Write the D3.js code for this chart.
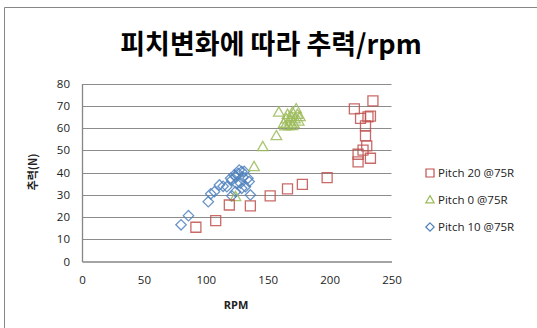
<!DOCTYPE html>
<html>
<head>
<meta charset="utf-8">
<script src="https://cdn.jsdelivr.net/npm/d3@7"></script>
<style>
  html, body { margin: 0; padding: 0; background: #fff; }
  svg { display: block; }
</style>
</head>
<body>
<svg id="chart" width="537" height="328"></svg>
<script>
// Thrust (N) against RPM for three pitch settings, measured at 75% radius
const pitch20 = [
  [92, 15.4], [108, 18.4], [119, 25.4], [136, 25], [152, 29.5], [166, 32.6],
  [178, 34.7], [198, 37.7], [220, 68.6], [235, 72.2], [225, 64.3], [231, 65],
  [233, 65.3], [229, 61], [229, 56.5], [230, 52], [227, 50.1], [223, 48.2],
  [223, 44.8], [233, 46.4]
];
const pitch0 = [
  [124, 29], [139, 42.5], [146, 51.5], [157, 56.4], [159, 67], [163, 62],
  [165, 64], [166, 66], [167, 61], [168, 63], [169, 65], [170, 67],
  [171, 62], [172, 64], [173, 68.5], [174, 66], [175, 63], [176, 65],
  [164, 60.8], [170, 61]
];
const pitch10 = [
  [80, 16.5], [86, 20.6], [102, 26.9], [104, 30.4], [107, 31.4], [111, 34.4],
  [114, 33.8], [117, 33.6], [120, 37.4], [121, 36.6], [121, 29.5], [123, 38.9],
  [124, 31.4], [124, 38.1], [126, 39.6], [127, 41.1], [128, 35.2], [129, 40.4],
  [129, 32.9], [130, 38], [132, 33.6], [134, 37.4], [135, 35.9], [136, 29.9],
  [131, 40.5], [125, 35]
];
const xTicks = [0, 50, 100, 150, 200, 250];
const yTicks = [0, 10, 20, 30, 40, 50, 60, 70, 80];
const seriesNames = ["Pitch 20 @75R", "Pitch 0 @75R", "Pitch 10 @75R"];
const titleText = "피치변화에 따라 추력/rpm";
const xTitle = "RPM";
const yTitle = "추력(N)";

const svg = d3.select("#chart");
const frameColor = "#868686";
const gridColor = "#8c8c8c";
const textFont = "'Open Sans', 'Noto Sans', sans-serif";

// outer chart frame (left and top edges are visible)
svg.append("path")
  .attr("d", "M4.5,328 V7.5 H540")
  .attr("fill", "none")
  .attr("stroke", frameColor)
  .attr("stroke-width", 1);

const plot = { left: 82, right: 391.5, top: 83.5, bottom: 261.5 };
const x = d3.scaleLinear().domain([0, 250]).range([plot.left, plot.right]);
const y = d3.scaleLinear().domain([0, 80]).range([plot.bottom, plot.top]);

// horizontal gridlines
svg.append("g")
  .selectAll("line")
  .data(yTicks.filter(v => v > 0))
  .join("line")
  .attr("x1", plot.left).attr("x2", plot.right)
  .attr("y1", d => Math.round(y(d)) + 0.5).attr("y2", d => Math.round(y(d)) + 0.5)
  .attr("stroke", gridColor).attr("stroke-width", 1.2);

// axes
const yAxis = svg.append("g")
  .attr("transform", `translate(${plot.left},0)`)
  .call(d3.axisLeft(y).tickValues(yTicks).tickSize(0).tickPadding(12).tickFormat(d3.format("d")));
const xAxis = svg.append("g")
  .attr("transform", `translate(0,${plot.bottom})`)
  .call(d3.axisBottom(x).tickValues(xTicks).tickSize(0).tickPadding(14).tickFormat(d3.format("d")));
[xAxis, yAxis].forEach(g => {
  g.select(".domain").attr("stroke", frameColor).attr("stroke-width", 1.3);
  g.selectAll("text")
    .attr("font-family", textFont)
    .attr("font-size", 11.5)
    .attr("fill", "#222");
});

// marker shapes: square, triangle, and a square turned 45° (diamond)
const squarePath = s => `M${-s},${-s}H${s}V${s}H${-s}Z`;
const trianglePath = s => `M0,${-s * 1.05}L${s},${s * 0.7}H${-s}Z`;
const diamondPath = s => `M0,${-s}L${s},0L0,${s}L${-s},0Z`;

const series = [
  { name: seriesNames[0], data: pitch20, color: "#c0504d", shape: squarePath, size: 5, legendSize: 4 },
  { name: seriesNames[1], data: pitch0, color: "#9bbb59", shape: trianglePath, size: 5.3, legendSize: 4.2 },
  { name: seriesNames[2], data: pitch10, color: "#4f81bd", shape: diamondPath, size: 5.2, legendSize: 4.2 }
];

// draw in reverse so the first series sits on top
series.slice().reverse().forEach(s => {
  svg.append("g")
    .selectAll("path")
    .data(s.data)
    .join("path")
    .attr("d", s.shape(s.size))
    .attr("transform", d => `translate(${x(d[0])},${y(d[1])})`)
    .attr("fill", "none")
    .attr("stroke", s.color)
    .attr("stroke-opacity", 0.85)
    .attr("stroke-width", 1.3);
});

// title
svg.append("text")
  .attr("x", 271).attr("y", 54)
  .attr("text-anchor", "middle")
  .attr("font-family", "'Noto Sans CJK KR', sans-serif")
  .attr("font-weight", "bold")
  .attr("font-size", 27)
  .attr("fill", "#000")
  .text(titleText);

// axis titles
svg.append("text")
  .attr("x", 236).attr("y", 309)
  .attr("text-anchor", "middle")
  .attr("font-family", textFont)
  .attr("font-weight", "bold")
  .attr("font-size", 11)
  .attr("fill", "#222")
  .text(xTitle);
svg.append("text")
  .attr("transform", "translate(37,172) rotate(-90)")
  .attr("text-anchor", "middle")
  .attr("font-family", "'Noto Sans CJK KR', sans-serif")
  .attr("font-weight", "bold")
  .attr("font-size", 11)
  .attr("fill", "#222")
  .text(yTitle);

// legend
const legend = svg.append("g").attr("transform", "translate(430,173)");
const rowGap = 27;
series.forEach((s, i) => {
  const row = legend.append("g").attr("transform", `translate(0,${i * rowGap})`);
  row.append("path")
    .attr("d", s.shape(s.legendSize))
    .attr("fill", "none")
    .attr("stroke", s.color)
    .attr("stroke-width", 1.2);
  row.append("text")
    .attr("x", 8).attr("y", 4)
    .attr("font-family", textFont)
    .attr("font-size", 11.5)
    .attr("fill", "#222")
    .text(s.name);
});
</script>
</body>
</html>
